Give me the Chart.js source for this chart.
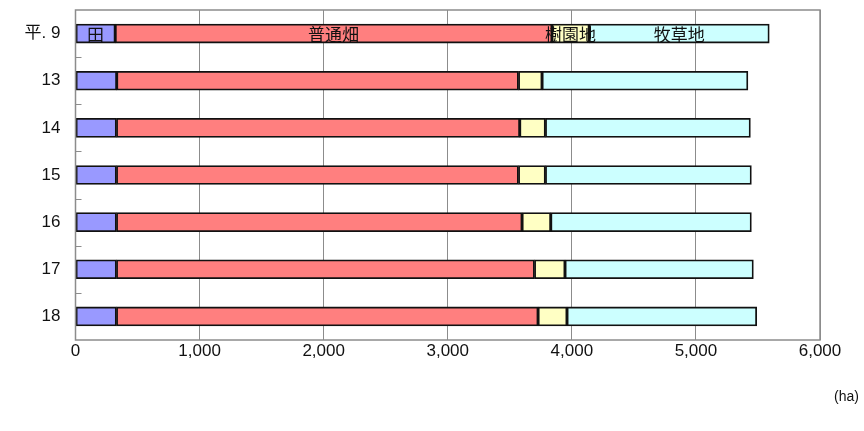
<!DOCTYPE html>
<html>
<head>
<meta charset="utf-8">
<script src="https://cdn.jsdelivr.net/npm/chart.js@4/dist/chart.umd.min.js"></script>
<style>
  html, body { margin: 0; padding: 0; background: #fff; }
  #wrap { position: relative; width: 864px; height: 431px; }
  #unit { position: absolute; left: 834px; top: 388px; font: 14px "Liberation Sans", "Noto Sans CJK JP", sans-serif; color: #111; }
</style>
</head>
<body>
<div id="wrap">
  <canvas id="c" width="864" height="431"></canvas>
  <div id="unit">(ha)</div>
</div>
<script>
// 年次（平成）
const years = ['平. 9', '13', '14', '15', '16', '17', '18'];
// 地目別耕地面積 (ha)
const paddy    = [320, 332, 330, 330, 330, 330, 330];        // 田
const upland   = [3520, 3238, 3250, 3240, 3269, 3369, 3398]; // 普通畑
const orchard  = [300, 190, 207, 217, 231, 246, 233];        // 樹園地
const pasture  = [1451, 1659, 1652, 1660, 1617, 1518, 1529]; // 牧草地
const xTicks   = [0, 1000, 2000, 3000, 4000, 5000, 6000];

const seriesNames  = ['田', '普通畑', '樹園地', '牧草地'];
const seriesValues = [paddy, upland, orchard, pasture];
const seriesColors = ['#9999ff', '#ff7f7f', '#ffffc4', '#ccffff'];

const FONT = '"Liberation Sans", "Noto Sans CJK JP", sans-serif';

// 枠線・目盛り・先頭行の系列名
const decor = {
  id: 'decor',
  beforeDatasetsDraw(chart) {
    const { ctx, chartArea: a, scales: { y } } = chart;
    ctx.save();
    ctx.strokeStyle = '#8c8c8c';
    ctx.lineWidth = 1;
    for (let i = 1; i < years.length; i++) {
      const py = Math.round(y.getPixelForValue(i - 0.5)) + 0.5;
      ctx.beginPath();
      ctx.moveTo(a.left, py);
      ctx.lineTo(a.left + 6, py);
      ctx.stroke();
    }
    ctx.restore();
  },
  afterDatasetsDraw(chart) {
    const { ctx, chartArea: a } = chart;
    ctx.save();
    ctx.strokeStyle = '#8c8c8c';
    ctx.lineWidth = 1.5;
    ctx.strokeRect(a.left, a.top, a.right - a.left, a.bottom - a.top);
    ctx.fillStyle = '#111';
    ctx.font = '17px "Noto Sans CJK JP", sans-serif';
    ctx.textAlign = 'center';
    ctx.textBaseline = 'middle';
    seriesNames.forEach((name, i) => {
      const el = chart.getDatasetMeta(i).data[0];
      ctx.fillText(name, (el.x + el.base) / 2, el.y + 1);
    });
    ctx.restore();
  }
};

new Chart(document.getElementById('c'), {
  type: 'bar',
  data: {
    labels: years,
    datasets: seriesNames.map((name, i) => ({
      label: name,
      data: seriesValues[i],
      backgroundColor: seriesColors[i],
      borderColor: '#111',
      borderWidth: 1.8,
      borderSkipped: false,
      barThickness: 19
    }))
  },
  options: {
    indexAxis: 'y',
    responsive: false,
    animation: false,
    layout: { padding: { top: 10, right: 44, left: 0, bottom: 0 } },
    plugins: { legend: { display: false }, tooltip: { enabled: false } },
    scales: {
      x: {
        stacked: true,
        min: 0,
        max: 6000,
        afterBuildTicks(s) { s.ticks = xTicks.map(v => ({ value: v })); },
        afterFit(s) { s.height = 91; s.paddingLeft = 0; s.paddingRight = 0; },
        grid: { color: '#8c8c8c', lineWidth: 1, drawTicks: false },
        border: { display: false },
        ticks: {
          padding: 1,
          color: '#111',
          font: { family: FONT, size: 17 },
          maxRotation: 0,
          callback: v => v.toLocaleString('en-US')
        }
      },
      y: {
        stacked: true,
        afterFit(s) { s.width = 75.5; s.paddingTop = 0; s.paddingBottom = 0; },
        grid: { display: false, drawTicks: false },
        border: { display: false },
        ticks: {
          padding: 15,
          color: '#111',
          font: { family: FONT, size: 17 }
        }
      }
    }
  },
  plugins: [decor]
});
</script>
</body>
</html>
